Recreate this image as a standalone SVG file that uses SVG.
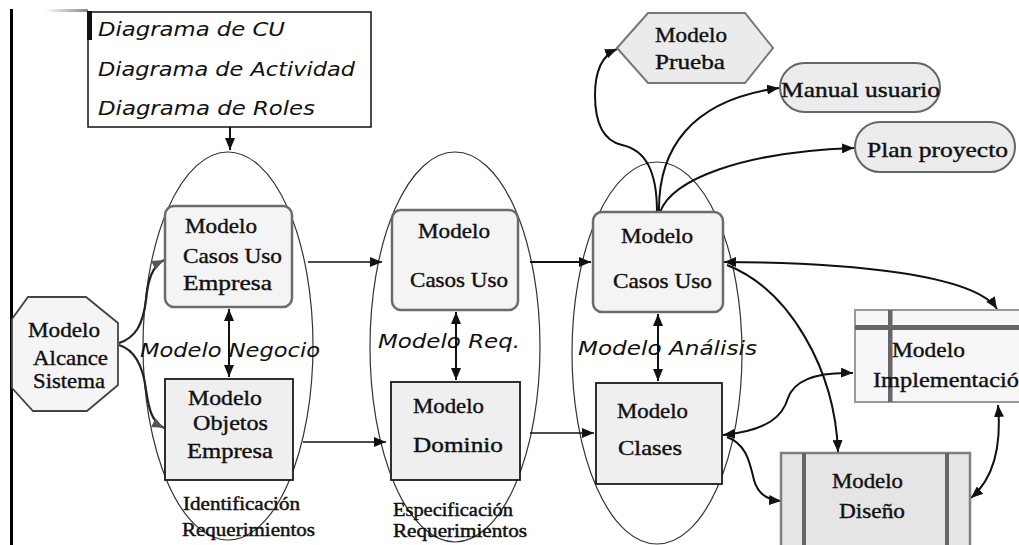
<svg xmlns="http://www.w3.org/2000/svg" width="1019" height="545" viewBox="0 0 1019 545">
  <defs>
    <style>
      .serif { font-family: "Liberation Serif", "Times New Roman", serif; font-size: 22px; fill: #111; stroke: #111; stroke-width: 0.4; }
      .small { font-family: "Liberation Serif", "Times New Roman", serif; font-size: 18px; fill: #111; stroke: #111; stroke-width: 0.45; }
      .ital { font-family: "DejaVu Sans", "Noto Sans", sans-serif; font-style: italic; font-size: 20px; fill: #111; }
      .phase { fill: none; stroke: #333; stroke-width: 1.2; }
      .conn { fill: none; stroke: #111; stroke-width: 2; }
      .thin { fill: none; stroke: #111; stroke-width: 1.5; }
      .round { fill: #f4f4f4; stroke: #6b6b6b; stroke-width: 2.5; }
      .box { fill: #efefef; stroke: #1a1a1a; stroke-width: 1.8; }
      .pill { fill: #ececec; stroke: #666; stroke-width: 2; }
    </style>
    <marker id="ah" viewBox="0 0 12 10" refX="12" refY="5" markerWidth="12" markerHeight="10" markerUnits="userSpaceOnUse" orient="auto-start-reverse">
      <path d="M0,0 L12,5 L0,10 z" fill="#111"/>
    </marker>
    <marker id="ahg" viewBox="0 0 12 10" refX="12" refY="5" markerWidth="12" markerHeight="10" markerUnits="userSpaceOnUse" orient="auto">
      <path d="M0,0 L12,5 L0,10 z" fill="#555"/>
    </marker>
    <linearGradient id="smudge" x1="0" y1="0" x2="1" y2="0">
      <stop offset="0" stop-color="#fff"/>
      <stop offset="1" stop-color="#888"/>
    </linearGradient>
  </defs>

  <rect width="1019" height="545" fill="#fff"/>

  <!-- page margin line and top-left edge -->
  <rect x="10" y="9" width="3" height="536" fill="#000"/>
  <rect x="45" y="9" width="43" height="3" fill="url(#smudge)"/>

  <!-- phase ellipses -->
  <g id="phases">
    <ellipse class="phase" cx="228" cy="346" rx="85" ry="194"/>
    <ellipse class="phase" cx="455" cy="347" rx="85" ry="195"/>
    <ellipse class="phase" cx="657" cy="353" rx="85" ry="191"/>
  </g>

  <!-- connectors -->
  <g id="connectors">
    <path class="conn" stroke-width="2.5" d="M230,127 L230,150" marker-end="url(#ah)"/>

    <path fill="none" stroke="#222" stroke-width="2.2" d="M119,343 C135,338 143,325 146,300 C148,280 152,266 164,260" marker-end="url(#ahg)"/>
    <path fill="none" stroke="#222" stroke-width="2.2" d="M119,345 C135,350 143,365 146,390 C149,410 152,422 164,428" marker-end="url(#ahg)"/>

    <path class="conn" stroke-width="3" d="M229,309 L229,377" marker-start="url(#ah)" marker-end="url(#ah)"/>
    <path class="conn" d="M456,312 L456,380" marker-start="url(#ah)" marker-end="url(#ah)"/>
    <path class="conn" d="M658,314 L658,381" marker-start="url(#ah)" marker-end="url(#ah)"/>

    <path class="thin" d="M308,262 L382,262" marker-end="url(#ah)"/>
    <path class="conn" stroke-width="2.5" d="M530,262 L591,262" marker-end="url(#ah)"/>
    <path class="thin" d="M303,442 L386,442" marker-end="url(#ah)"/>
    <path class="thin" d="M530,433 L594,433" marker-end="url(#ah)"/>

    <path class="conn" stroke-width="2.5" d="M657,212 C657,170 645,150 622,145 C600,140 595,118 595,95 C595,70 603,55 617,49" marker-end="url(#ah)"/>
    <path class="conn" stroke-width="2.5" d="M659,212 C658,150 690,100 779,88" marker-end="url(#ah)"/>
    <path class="conn" stroke-width="2.5" d="M660,212 C672,180 740,152 854,148" marker-end="url(#ah)"/>

    <path class="conn" stroke-width="2.5" d="M724,262 C850,262 975,275 997,309" marker-start="url(#ah)" marker-end="url(#ah)"/>
    <path class="conn" stroke-width="2.5" d="M727,265 C790,290 835,370 838,452" marker-end="url(#ah)"/>
    <path class="conn" stroke-width="2.5" d="M723,435 C770,430 783,415 788,398 C795,378 820,372 853,373" marker-start="url(#ah)" marker-end="url(#ah)"/>
    <path class="conn" stroke-width="2.5" d="M727,437 C748,445 750,465 754,480 C758,495 768,500 781,501" marker-end="url(#ah)"/>
    <path class="conn" stroke-width="2.5" d="M998,405 C1002,450 992,480 971,498" marker-start="url(#ah)" marker-end="url(#ah)"/>
  </g>

  <!-- diagram list box -->
  <g id="diagramas">
    <rect x="88" y="12" width="283" height="115" fill="#fff" stroke="#111" stroke-width="1.5"/>
    <rect x="87" y="11" width="5" height="29" fill="#111"/>
    <text class="ital" x="98" y="36" textLength="187" lengthAdjust="spacingAndGlyphs">Diagrama de CU</text>
    <text class="ital" x="98" y="76" textLength="257" lengthAdjust="spacingAndGlyphs">Diagrama de Actividad</text>
    <text class="ital" x="98" y="115" textLength="217" lengthAdjust="spacingAndGlyphs">Diagrama de Roles</text>
  </g>

  <g id="alcance">
    <polygon points="28,297 86,297 118,323 118,385 87,411 33,411 12,388 12,319" fill="#f5f5f5" stroke="#444" stroke-width="1.8"/>
    <text class="serif" x="28" y="337" textLength="72" lengthAdjust="spacingAndGlyphs">Modelo</text>
    <text class="serif" x="33" y="365" textLength="75" lengthAdjust="spacingAndGlyphs">Alcance</text>
    <text class="serif" x="33" y="388" textLength="72" lengthAdjust="spacingAndGlyphs">Sistema</text>
  </g>

  <g id="cu-empresa">
    <rect class="round" x="165" y="206" width="127" height="101" rx="9"/>
    <text class="serif" x="185" y="233" textLength="72" lengthAdjust="spacingAndGlyphs">Modelo</text>
    <text class="serif" x="183" y="263" textLength="99" lengthAdjust="spacingAndGlyphs">Casos Uso</text>
    <text class="serif" x="183" y="290" textLength="89" lengthAdjust="spacingAndGlyphs">Empresa</text>
  </g>

  <g id="objetos-empresa">
    <rect class="box" x="165" y="379" width="128" height="101"/>
    <text class="serif" x="188" y="405" textLength="74" lengthAdjust="spacingAndGlyphs">Modelo</text>
    <text class="serif" x="193" y="430" textLength="75" lengthAdjust="spacingAndGlyphs">Objetos</text>
    <text class="serif" x="187" y="458" textLength="86" lengthAdjust="spacingAndGlyphs">Empresa</text>
  </g>

  <g id="cu-req">
    <rect class="round" x="392" y="210" width="126" height="100" rx="9"/>
    <text class="serif" x="418" y="238" textLength="72" lengthAdjust="spacingAndGlyphs">Modelo</text>
    <text class="serif" x="410" y="287" textLength="98" lengthAdjust="spacingAndGlyphs">Casos Uso</text>
  </g>

  <g id="dominio">
    <rect class="box" x="391" y="382" width="129" height="98"/>
    <text class="serif" x="413" y="413" textLength="71" lengthAdjust="spacingAndGlyphs">Modelo</text>
    <text class="serif" x="413" y="452" textLength="90" lengthAdjust="spacingAndGlyphs">Dominio</text>
  </g>

  <g id="cu-analisis">
    <rect class="round" x="593" y="212" width="130" height="100" rx="9"/>
    <text class="serif" x="621" y="243" textLength="72" lengthAdjust="spacingAndGlyphs">Modelo</text>
    <text class="serif" x="613" y="288" textLength="99" lengthAdjust="spacingAndGlyphs">Casos Uso</text>
  </g>

  <g id="clases">
    <rect class="box" x="596" y="383" width="126" height="101"/>
    <text class="serif" x="617" y="418" textLength="71" lengthAdjust="spacingAndGlyphs">Modelo</text>
    <text class="serif" x="618" y="455" textLength="64" lengthAdjust="spacingAndGlyphs">Clases</text>
  </g>

  <g id="prueba">
    <polygon points="617,48 648,13 745,13 773,48 745,83 648,83" fill="#ebebeb" stroke="#777" stroke-width="2"/>
    <text class="serif" x="655" y="42" textLength="72" lengthAdjust="spacingAndGlyphs">Modelo</text>
    <text class="serif" x="655" y="69" textLength="70" lengthAdjust="spacingAndGlyphs">Prueba</text>
  </g>

  <g id="manual">
    <rect class="pill" x="780" y="63" width="160" height="49" rx="24.5"/>
    <text class="serif" x="781" y="97" textLength="159" lengthAdjust="spacingAndGlyphs">Manual usuario</text>
  </g>

  <g id="plan">
    <rect class="pill" x="855" y="122" width="160" height="50" rx="25"/>
    <text class="serif" x="867" y="157" textLength="141" lengthAdjust="spacingAndGlyphs">Plan proyecto</text>
  </g>

  <g id="implementacion">
    <rect x="855" y="310" width="200" height="92" fill="#f7f7f7" stroke="#999" stroke-width="2"/>
    <rect x="855" y="325" width="170" height="5" fill="#666"/>
    <rect x="888" y="310" width="4.5" height="92" fill="#666"/>
    <text class="serif" x="892" y="357" textLength="73" lengthAdjust="spacingAndGlyphs">Modelo</text>
    <text class="serif" x="873" y="387" textLength="158" lengthAdjust="spacingAndGlyphs">Implementación</text>
  </g>

  <g id="diseno">
    <rect x="781" y="453" width="189" height="100" fill="#e5e5e5" stroke="#808080" stroke-width="2.5"/>
    <rect x="802" y="453" width="4" height="100" fill="#666"/>
    <rect x="945" y="453" width="4" height="100" fill="#666"/>
    <text class="serif" x="832" y="488" textLength="71" lengthAdjust="spacingAndGlyphs">Modelo</text>
    <text class="serif" x="839" y="518" textLength="66" lengthAdjust="spacingAndGlyphs">Diseño</text>
  </g>

  <!-- phase labels -->
  <g id="labels">
    <text class="ital" x="140" y="357" textLength="180" lengthAdjust="spacingAndGlyphs">Modelo Negocio</text>
    <text class="ital" x="378" y="348" textLength="142" lengthAdjust="spacingAndGlyphs">Modelo Req.</text>
    <text class="ital" x="578" y="355" textLength="179" lengthAdjust="spacingAndGlyphs">Modelo Análisis</text>
    <text class="small" x="183" y="510" textLength="117" lengthAdjust="spacingAndGlyphs">Identificación</text>
    <text class="small" x="182" y="536" textLength="133" lengthAdjust="spacingAndGlyphs">Requerimientos</text>
    <text class="small" x="393" y="516" textLength="120" lengthAdjust="spacingAndGlyphs">Especificación</text>
    <text class="small" x="393" y="537" textLength="134" lengthAdjust="spacingAndGlyphs">Requerimientos</text>
  </g>
</svg>
